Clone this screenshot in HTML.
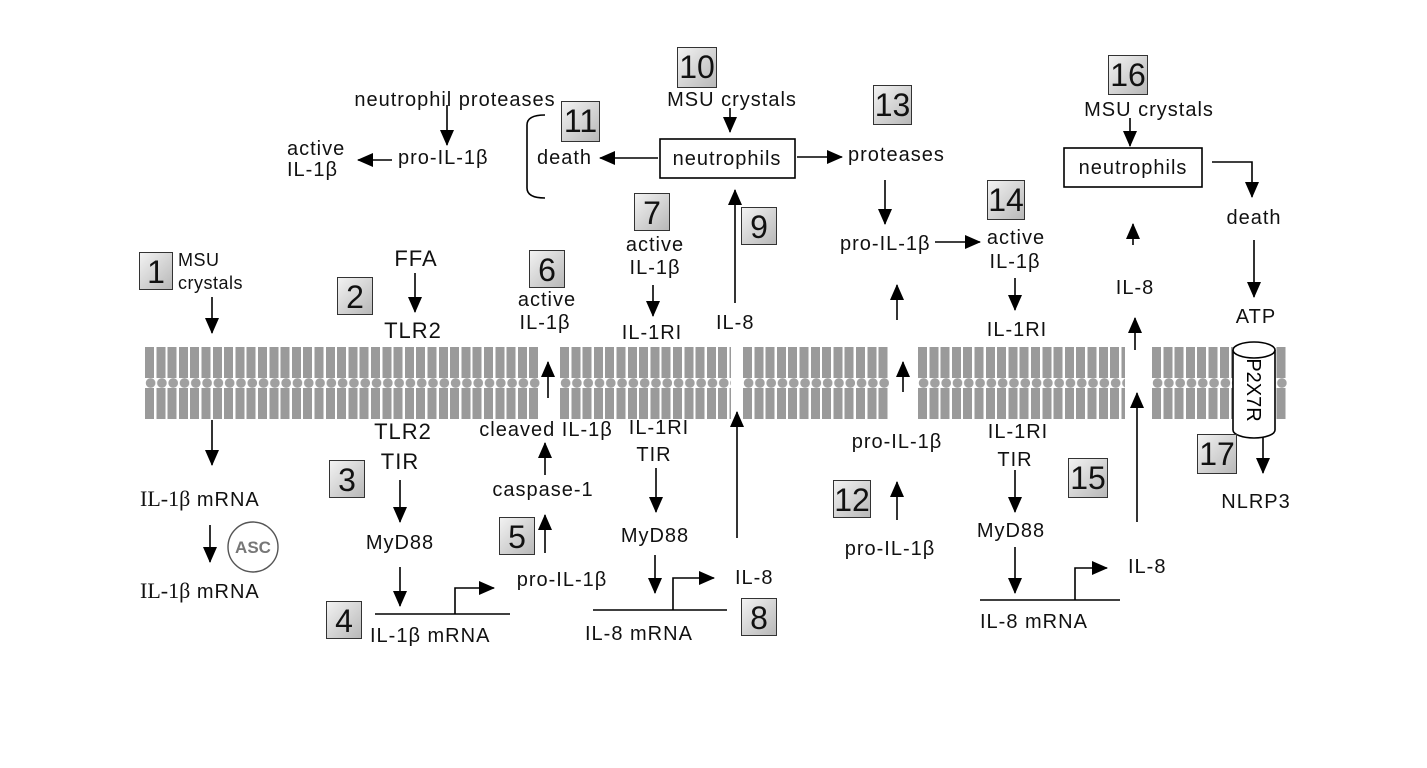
<!DOCTYPE html>
<html><head><meta charset="utf-8"><style>
body{margin:0;width:1427px;height:768px;background:#fff;position:relative;overflow:hidden;font-family:"Liberation Sans",sans-serif;color:#111}
.t{position:absolute;font-size:20px;line-height:22px;letter-spacing:1px;white-space:nowrap}
.c{transform:translateX(-50%);text-align:center}
.g{font-size:22px}
.s{font-family:"Liberation Serif",serif;font-size:22px;letter-spacing:0}
.b{position:absolute;width:36px;height:38px;border:1.5px solid #333;background:linear-gradient(135deg,#f2f2f2,#b8b8b8);font-size:32px;line-height:38px;text-align:center;box-sizing:border-box}
.m{position:absolute;top:347px;height:72px}
.m .r1,.m .r2{position:absolute;left:0;right:0;height:31px;background:repeating-linear-gradient(90deg,#9a9a9a 0 9px,#fff 9px 11.3px)}
.m .r1{top:0}.m .r2{top:41px}
.m .d{position:absolute;left:0;right:0;top:31px;height:10px;background:radial-gradient(ellipse 5px 5px at 5.6px 5px,#a0a0a0 4.6px,transparent 5px);background-size:11.3px 10px}
</style></head><body>
<div class="m" style="left:145px;width:395px"><div class="r1"></div><div class="d"></div><div class="r2"></div></div>
<div class="m" style="left:560px;width:171px"><div class="r1"></div><div class="d"></div><div class="r2"></div></div>
<div class="m" style="left:743px;width:146px"><div class="r1"></div><div class="d"></div><div class="r2"></div></div>
<div class="m" style="left:918px;width:207px"><div class="r1"></div><div class="d"></div><div class="r2"></div></div>
<div class="m" style="left:1152px;width:135px"><div class="r1"></div><div class="d"></div><div class="r2"></div></div>

<svg width="1427" height="768" style="position:absolute;left:0;top:0">
<defs><marker id="h" markerWidth="16" markerHeight="14" refX="15" refY="7" orient="auto" markerUnits="userSpaceOnUse"><path d="M0,0 L16,7 L0,14z" fill="#000"/></marker></defs>
<g stroke="#000" stroke-width="1.6" fill="none" marker-end="url(#h)">
<path d="M212 297V333"/><path d="M212 420V465"/><path d="M210 525V562"/>
<path d="M415 273V312"/><path d="M400 480V522"/><path d="M400 567V606"/>
<path d="M455 614V588H494"/>
<path d="M545 553V515"/><path d="M545 475V443"/><path d="M548 398V362"/>
<path d="M653 285V316"/><path d="M656 468V512"/><path d="M655 555V593"/><path d="M673 610V578H714"/>
<path d="M737 538V412"/><path d="M735 303V190"/>
<path d="M730 108V132"/><path d="M658 158H600"/><path d="M447 105V145"/><path d="M392 160H358"/>
<path d="M797 157H842"/><path d="M885 180V224"/><path d="M935 242H980"/><path d="M1015 278V310"/>
<path d="M897 320V285"/><path d="M903 392V362"/><path d="M897 520V482"/>
<path d="M1015 470V512"/><path d="M1015 547V593"/><path d="M1075 600V568H1107"/>
<path d="M1137 522V393"/><path d="M1135 350V318"/><path d="M1133 245V224"/>
<path d="M1130 118V146"/><path d="M1212 162H1252V197"/><path d="M1254 240V297"/><path d="M1263 437V473"/>
</g>
<g stroke="#000" stroke-width="1.6" fill="none">
<path d="M375 614H510"/><path d="M593 610H727"/><path d="M980 600H1120"/>
<path d="M545 115Q527 115 527 125V188Q527 198 545 198"/>
<circle cx="253" cy="547" r="25" stroke="#555" stroke-width="1.4"/>
<rect x="660" y="139" width="135" height="39" fill="#fff"/>
<rect x="1064" y="148" width="138" height="39" fill="#fff"/>
<path d="M1233 350V430A21 8 0 0 0 1275 430V350" fill="#fff"/>
<ellipse cx="1254" cy="350" rx="21" ry="8" fill="#fff"/>
</g>
<text x="253" y="553" font-size="17" font-weight="bold" fill="#777" text-anchor="middle" font-family="Liberation Sans">ASC</text>
<text transform="translate(1247,390) rotate(90)" font-size="20" text-anchor="middle" font-family="Liberation Sans">P2X7R</text>
</svg>

<div class="b" style="left:139px;top:252px;width:34px">1</div>
<div class="b" style="left:337px;top:277px">2</div>
<div class="b" style="left:329px;top:460px">3</div>
<div class="b" style="left:326px;top:601px">4</div>
<div class="b" style="left:499px;top:517px">5</div>
<div class="b" style="left:529px;top:250px">6</div>
<div class="b" style="left:634px;top:193px">7</div>
<div class="b" style="left:741px;top:598px">8</div>
<div class="b" style="left:741px;top:207px">9</div>
<div class="b" style="left:677px;top:47px;width:40px;height:41px">10</div>
<div class="b" style="left:561px;top:101px;width:39px;height:41px">11</div>
<div class="b" style="left:833px;top:480px;width:38px">12</div>
<div class="b" style="left:873px;top:85px;width:39px;height:40px">13</div>
<div class="b" style="left:987px;top:180px;width:38px;height:40px">14</div>
<div class="b" style="left:1068px;top:458px;width:40px;height:40px">15</div>
<div class="b" style="left:1108px;top:55px;width:40px;height:40px">16</div>
<div class="b" style="left:1197px;top:434px;width:40px;height:40px">17</div>

<div class="t" style="left:178px;top:249px;font-size:18px;letter-spacing:0.5px">MSU</div>
<div class="t" style="left:178px;top:272px;font-size:18px;letter-spacing:0.5px">crystals</div>
<div class="t" style="left:140px;top:488px"><span class="s">IL-1β</span> mRNA</div>
<div class="t" style="left:140px;top:580px"><span class="s">IL-1β</span> mRNA</div>
<div class="t c g" style="left:416px;top:248px">FFA</div>
<div class="t c g" style="left:413px;top:320px">TLR2</div>
<div class="t c g" style="left:403px;top:421px">TLR2</div>
<div class="t c g" style="left:400px;top:451px">TIR</div>
<div class="t c" style="left:400px;top:532px">MyD88</div>
<div class="t" style="left:370px;top:625px">IL-1β mRNA</div>
<div class="t c" style="left:562px;top:569px">pro-IL-1β</div>
<div class="t c" style="left:543px;top:479px">caspase-1</div>
<div class="t c" style="left:546px;top:419px">cleaved IL-1β</div>
<div class="t c" style="left:547px;top:289px">active</div>
<div class="t c" style="left:545px;top:312px">IL-1β</div>
<div class="t c" style="left:655px;top:234px">active</div>
<div class="t c" style="left:655px;top:257px">IL-1β</div>
<div class="t c" style="left:652px;top:322px">IL-1RI</div>
<div class="t c" style="left:659px;top:417px">IL-1RI</div>
<div class="t c" style="left:654px;top:444px">TIR</div>
<div class="t c" style="left:655px;top:525px">MyD88</div>
<div class="t" style="left:735px;top:567px">IL-8</div>
<div class="t" style="left:585px;top:623px">IL-8 mRNA</div>
<div class="t" style="left:716px;top:312px">IL-8</div>
<div class="t c" style="left:727px;top:148px">neutrophils</div>
<div class="t c" style="left:732px;top:89px">MSU crystals</div>
<div class="t" style="left:537px;top:147px">death</div>
<div class="t c" style="left:455px;top:89px">neutrophil proteases</div>
<div class="t" style="left:398px;top:147px">pro-IL-1β</div>
<div class="t" style="left:287px;top:138px">active</div>
<div class="t" style="left:287px;top:159px">IL-1β</div>
<div class="t" style="left:848px;top:144px">proteases</div>
<div class="t" style="left:840px;top:233px">pro-IL-1β</div>
<div class="t c" style="left:1016px;top:227px">active</div>
<div class="t c" style="left:1015px;top:251px">IL-1β</div>
<div class="t c" style="left:1017px;top:319px">IL-1RI</div>
<div class="t c" style="left:897px;top:431px">pro-IL-1β</div>
<div class="t c" style="left:890px;top:538px">pro-IL-1β</div>
<div class="t c" style="left:1018px;top:421px">IL-1RI</div>
<div class="t c" style="left:1015px;top:449px">TIR</div>
<div class="t c" style="left:1011px;top:520px">MyD88</div>
<div class="t" style="left:1128px;top:556px">IL-8</div>
<div class="t" style="left:980px;top:611px">IL-8 mRNA</div>
<div class="t c" style="left:1135px;top:277px">IL-8</div>
<div class="t c" style="left:1149px;top:99px">MSU crystals</div>
<div class="t c" style="left:1133px;top:157px">neutrophils</div>
<div class="t c" style="left:1254px;top:207px">death</div>
<div class="t c" style="left:1256px;top:306px">ATP</div>
<div class="t c" style="left:1256px;top:491px">NLRP3</div>
</body></html>
